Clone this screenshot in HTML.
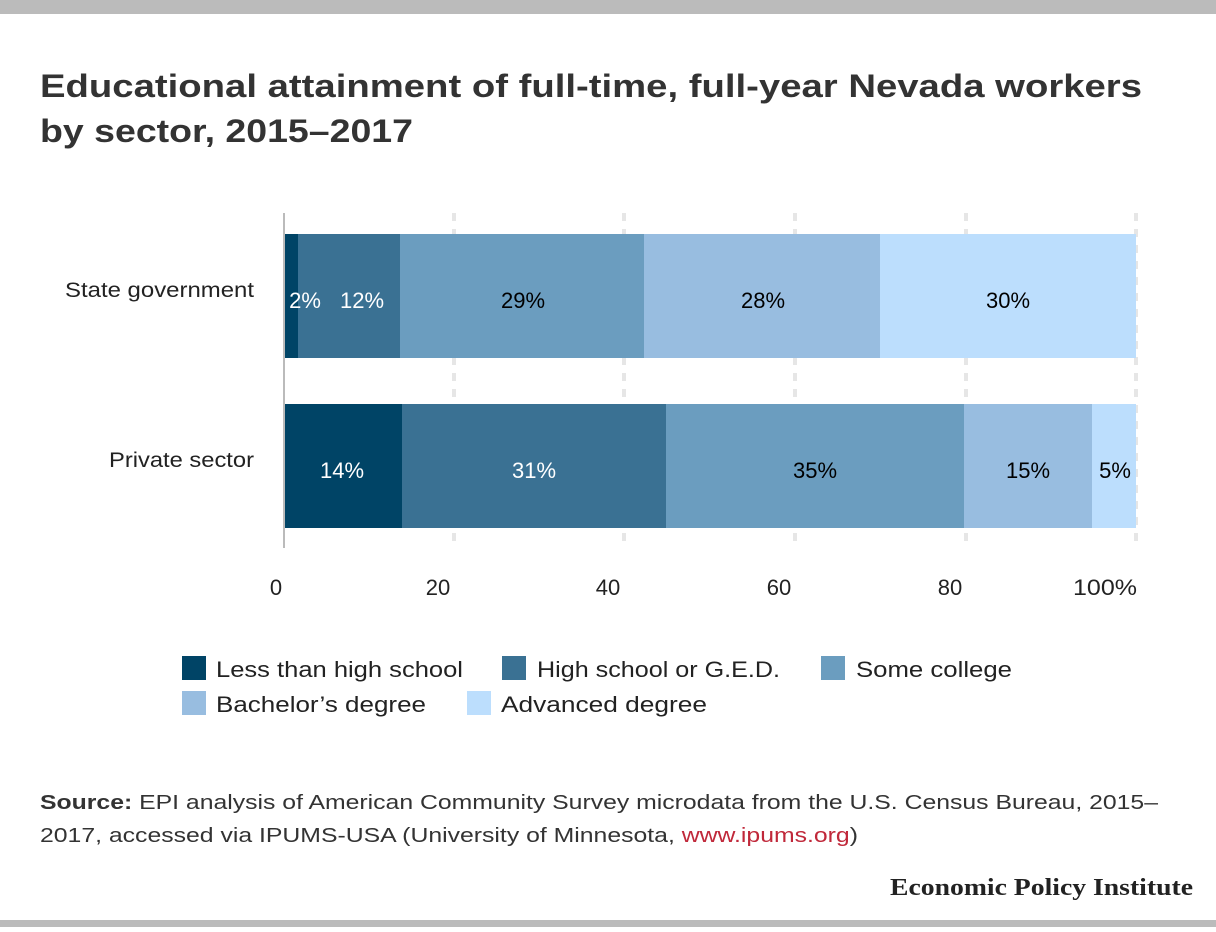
<!DOCTYPE html>
<html><head><meta charset="utf-8"><style>
body{margin:0;background:#fff;}
svg text{font-family:"Liberation Sans",sans-serif;}
</style></head><body>
<svg width="1216" height="927" xmlns="http://www.w3.org/2000/svg">
<rect x="0" y="0" width="1216" height="14" fill="#bbbbbb"/>
<rect x="0" y="920" width="1216" height="7" fill="#bbbbbb"/>
<text x="40" y="97" font-size="32" font-weight="bold" fill="#333" textLength="1102" lengthAdjust="spacingAndGlyphs">Educational attainment of full-time, full-year Nevada workers</text>
<text x="40" y="142" font-size="32" font-weight="bold" fill="#333" textLength="373" lengthAdjust="spacingAndGlyphs">by sector, 2015–2017</text>
<g stroke="#e6e6e6" stroke-width="4" stroke-dasharray="8,8">
<line x1="454" y1="213" x2="454" y2="548"/><line x1="624" y1="213" x2="624" y2="548"/>
<line x1="795" y1="213" x2="795" y2="548"/><line x1="966" y1="213" x2="966" y2="548"/>
<line x1="1136" y1="213" x2="1136" y2="548"/></g>
<rect x="284" y="234" width="14" height="124" fill="#004466"/>
<rect x="298" y="234" width="102" height="124" fill="#3a7193"/>
<rect x="400" y="234" width="244" height="124" fill="#6b9dbf"/>
<rect x="644" y="234" width="236" height="124" fill="#98bde0"/>
<rect x="880" y="234" width="256" height="124" fill="#bcdefd"/>
<rect x="284" y="404" width="118" height="124" fill="#004466"/>
<rect x="402" y="404" width="264" height="124" fill="#3a7193"/>
<rect x="666" y="404" width="298" height="124" fill="#6b9dbf"/>
<rect x="964" y="404" width="128" height="124" fill="#98bde0"/>
<rect x="1092" y="404" width="44" height="124" fill="#bcdefd"/>
<line x1="284" y1="213" x2="284" y2="548" stroke="#bbb" stroke-width="2"/>
<g font-size="22" text-anchor="middle">
<text x="305" y="308" fill="#fff">2%</text><text x="362" y="308" fill="#fff">12%</text>
<text x="523" y="308" fill="#000">29%</text><text x="763" y="308" fill="#000">28%</text><text x="1008" y="308" fill="#000">30%</text>
<text x="342" y="478" fill="#fff">14%</text><text x="534" y="478" fill="#fff">31%</text>
<text x="815" y="478" fill="#000">35%</text><text x="1028" y="478" fill="#000">15%</text><text x="1115" y="478" fill="#000">5%</text>
</g>
<g font-size="21" fill="#222">
<text x="65" y="297" textLength="189" lengthAdjust="spacingAndGlyphs">State government</text>
<text x="109" y="467" textLength="145" lengthAdjust="spacingAndGlyphs">Private sector</text></g>
<g font-size="22" text-anchor="middle" fill="#222">
<text x="276" y="595">0</text><text x="438" y="595">20</text><text x="608" y="595">40</text>
<text x="779" y="595">60</text><text x="950" y="595">80</text><text x="1105" y="595" textLength="64" lengthAdjust="spacingAndGlyphs">100%</text></g>
<g font-size="22" fill="#222">
<rect x="182" y="656" width="24" height="24" fill="#004466"/><text x="216" y="677" textLength="247" lengthAdjust="spacingAndGlyphs">Less than high school</text>
<rect x="502" y="656" width="24" height="24" fill="#3a7193"/><text x="537" y="677" textLength="243" lengthAdjust="spacingAndGlyphs">High school or G.E.D.</text>
<rect x="821" y="656" width="24" height="24" fill="#6b9dbf"/><text x="856" y="677" textLength="156" lengthAdjust="spacingAndGlyphs">Some college</text>
<rect x="182" y="691" width="24" height="24" fill="#98bde0"/><text x="216" y="712" textLength="210" lengthAdjust="spacingAndGlyphs">Bachelor’s degree</text>
<rect x="467" y="691" width="24" height="24" fill="#bcdefd"/><text x="501" y="712" textLength="206" lengthAdjust="spacingAndGlyphs">Advanced degree</text>
</g>
<g font-size="20" fill="#333">
<text x="40" y="809" textLength="1118" lengthAdjust="spacingAndGlyphs"><tspan font-weight="bold">Source:</tspan> EPI analysis of American Community Survey microdata from the U.S. Census Bureau, 2015–</text>
<text x="40" y="842" textLength="818" lengthAdjust="spacingAndGlyphs">2017, accessed via IPUMS-USA (University of Minnesota, <tspan fill="#c0283a">www.ipums.org</tspan>)</text>
</g>
<text x="1193" y="895" text-anchor="end" font-size="24" font-weight="bold" fill="#222" style="font-family:'Liberation Serif',serif" textLength="303" lengthAdjust="spacingAndGlyphs">Economic Policy Institute</text>
</svg>
</body></html>
